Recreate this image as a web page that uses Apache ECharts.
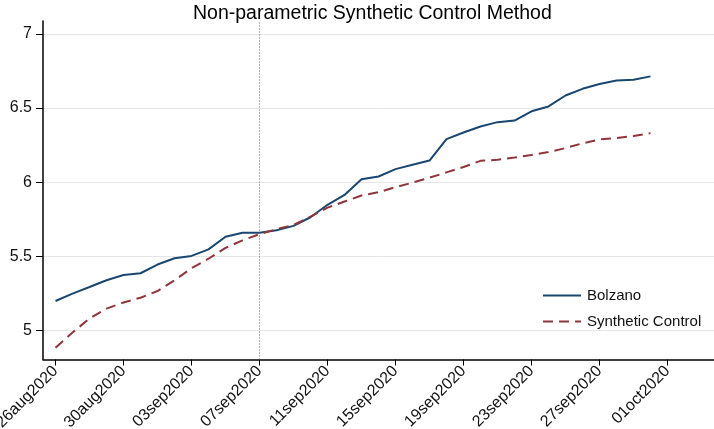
<!DOCTYPE html>
<html><head><meta charset="utf-8">
<script src="https://cdn.jsdelivr.net/npm/echarts@6/dist/echarts.min.js"></script>
<style>html,body{margin:0;padding:0;background:#fff}#c{width:714px;height:429px}</style>
</head><body><div id="c"></div>
<script>
// ---- data ----
const dates = ['2020-08-26','2020-08-27','2020-08-28','2020-08-29','2020-08-30','2020-08-31',
  '2020-09-01','2020-09-02','2020-09-03','2020-09-04','2020-09-05','2020-09-06','2020-09-07',
  '2020-09-08','2020-09-09','2020-09-10','2020-09-11','2020-09-12','2020-09-13','2020-09-14',
  '2020-09-15','2020-09-16','2020-09-17','2020-09-18','2020-09-19','2020-09-20','2020-09-21',
  '2020-09-22','2020-09-23','2020-09-24','2020-09-25','2020-09-26','2020-09-27','2020-09-28',
  '2020-09-29','2020-09-30'];
const bolzano = [5.198,5.248,5.292,5.338,5.373,5.385,5.444,5.486,5.502,5.546,5.631,5.658,5.659,
  5.675,5.705,5.763,5.847,5.914,6.020,6.038,6.088,6.117,6.146,6.290,6.335,6.376,6.405,6.416,
  6.478,6.511,6.585,6.630,6.662,6.686,6.691,6.714];
const synth = [4.883,4.985,5.080,5.146,5.188,5.220,5.265,5.337,5.419,5.483,5.556,5.607,5.649,
  5.683,5.711,5.768,5.828,5.869,5.910,5.932,5.966,5.997,6.030,6.066,6.102,6.144,6.151,6.166,
  6.184,6.203,6.230,6.262,6.288,6.298,6.311,6.331];
const xTickDates = ['2020-08-26','2020-08-30','2020-09-03','2020-09-07','2020-09-11',
  '2020-09-15','2020-09-19','2020-09-23','2020-09-27','2020-10-01'];
const treatDate = '2020-09-07';
const yTickMin = 5, yTickMax = 7, yTickStep = 0.5;
const names = ['Bolzano','Synthetic Control'];

// ---- helpers ----
const DAY = 86400000;
const start = Date.parse(dates[0]);
const dayOf = s => (Date.parse(s) - start) / DAY;
const MON = ['jan','feb','mar','apr','may','jun','jul','aug','sep','oct','nov','dec'];
const fmtDay = v => { const d = new Date(start + v * DAY);
  return String(d.getUTCDate()).padStart(2,'0') + MON[d.getUTCMonth()] + d.getUTCFullYear(); };

// ---- layout ----
const W = 714, H = 429;
const PX_DAY = 17, X0 = 55.5;          // pixel of first date
const PLOT_L = 43, PLOT_T = 21, PLOT_B = 359.5;
const PX_UNIT = 148.15, Y5 = 330.3;    // pixel of value 5
const font = 'Liberation Sans, Arial, sans-serif';

const xFirst = dayOf(xTickDates[0]), xLast = dayOf(xTickDates[xTickDates.length-1]);
const xStep = dayOf(xTickDates[1]) - xFirst;

const bData = dates.map((d,i) => [dayOf(d), bolzano[i]]);
const sData = dates.map((d,i) => [dayOf(d), synth[i]]);

const chart = echarts.init(document.getElementById('c'), null, {renderer:'canvas'});
chart.setOption({
  animation: false,
  backgroundColor: '#fff',
  title: { text: 'Non-parametric Synthetic Control Method', left: 188, top: -1,
    textStyle: { fontFamily: font, fontSize: 19.5, fontWeight: 'normal', color: '#000' } },
  legend: { orient: 'vertical', left: 537, top: 283, itemWidth: 38, itemHeight: 14, itemGap: 11,
    data: names, itemStyle: { opacity: 0 },
    textStyle: { fontFamily: font, fontSize: 15, color: '#111', padding: [0,0,0,1] } },
  grid: [
    { left: PLOT_L, right: 0, top: PLOT_T, bottom: H - PLOT_B, outerBoundsMode: 'none', containLabel: false },
    { left: PLOT_L, right: 0, top: Y5 - (yTickMax - yTickMin) * PX_UNIT, bottom: H - Y5, outerBoundsMode: 'none', containLabel: false },
    { left: X0 + xFirst * PX_DAY, width: (xLast - xFirst) * PX_DAY, top: PLOT_T, bottom: H - PLOT_B, outerBoundsMode: 'none', containLabel: false }
  ],
  xAxis: [
    { gridIndex: 0, type: 'value', min: -(X0 - PLOT_L) / PX_DAY, max: (W - X0) / PX_DAY,
      axisLine: { show: true, onZero: false, lineStyle: { color: '#000', width: 1.5 } },
      axisTick: { show: false }, axisLabel: { show: false }, splitLine: { show: false } },
    { gridIndex: 1, type: 'value', show: false, min: 0, max: 1 },
    { gridIndex: 2, type: 'value', min: xFirst, max: xLast, interval: xStep,
      axisLine: { show: false, onZero: false },
      axisTick: { show: true, length: 6, lineStyle: { color: '#000', width: 1 } },
      axisLabel: { rotate: 45, margin: 9, fontFamily: font, fontSize: 16, color: '#111',
        formatter: v => fmtDay(v) },
      splitLine: { show: false } }
  ],
  yAxis: [
    { gridIndex: 0, type: 'value', min: yTickMin - (PLOT_B - Y5) / PX_UNIT, max: yTickMin + (Y5 - PLOT_T) / PX_UNIT,
      axisLine: { show: true, onZero: false, lineStyle: { color: '#000', width: 1.5 } },
      axisTick: { show: false }, axisLabel: { show: false }, splitLine: { show: false } },
    { gridIndex: 1, type: 'value', min: yTickMin, max: yTickMax, interval: yTickStep,
      axisLine: { show: false, onZero: false },
      axisTick: { show: true, length: 7, lineStyle: { color: '#000', width: 1 } },
      axisLabel: { margin: 11, fontFamily: font, fontSize: 16, color: '#111' },
      splitLine: { show: true, lineStyle: { color: '#e6e6e6', width: 1 } } },
    { gridIndex: 2, type: 'value', show: false, min: 0, max: 1 }
  ],
  series: [
    { name: names[0], type: 'line', xAxisIndex: 0, yAxisIndex: 0, data: bData,
      symbol: 'none', lineStyle: { color: '#1a476f', width: 2 }, itemStyle: { color: '#1a476f' },
      markLine: { silent: true, symbol: 'none', label: { show: false },
        lineStyle: { type: [1, 2], color: '#666', width: 1 },
        data: [{ xAxis: dayOf(treatDate) }] } },
    { name: names[1], type: 'line', xAxisIndex: 0, yAxisIndex: 0, data: sData,
      symbol: 'none', lineStyle: { color: '#90353b', width: 2, type: [10, 6] }, itemStyle: { color: '#90353b' } }
  ]
});
</script></body></html>
